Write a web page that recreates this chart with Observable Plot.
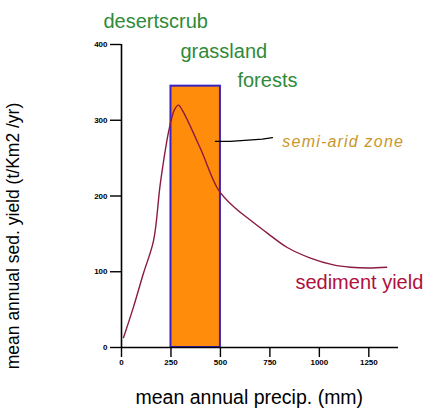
<!DOCTYPE html>
<html>
<head>
<meta charset="utf-8">
<script src="https://cdn.jsdelivr.net/npm/d3@7"></script>
<script src="https://cdn.jsdelivr.net/npm/@observablehq/plot@0.6"></script>
<style>
  html, body { margin: 0; padding: 0; background: #fff; }
</style>
</head>
<body>
<div id="chart"></div>
<script>
// Sediment yield curve (mean annual precip in mm, sed. yield in t/km2/yr)
const precip = [10, 60, 111, 162, 197, 242, 268, 288, 310, 400, 490, 570, 652, 737, 838, 955, 1071, 1157, 1250, 1340];
const sedYield = [13, 53, 98, 141, 218, 290, 314, 320, 312, 262, 208, 185, 168, 151, 132, 118, 109, 106, 105, 106];

// Semi-arid zone bar
const zoneStart = [250];
const zoneEnd = [500];
const zoneTop = [345];

// Leader line from bar to "semi-arid zone" label
const leaderX = [475, 550, 712, 763];
const leaderY = [272, 272, 275, 277];

// Tick labels
const xTicks = [0, 250, 500, 750, 1000, 1250];
const yTicks = [0, 100, 200, 300, 400];

// Annotations
const vegLabels = ["desertscrub", "grassland", "forests"];
const vegX = [-91, 298, 586];
const vegY = [430, 390, 352];

const zoneLabel = ["semi-arid zone"];
const zoneLabelX = [813];
const zoneLabelY = [271];

const seriesLabel = ["sediment yield"];
const seriesLabelX = [879];
const seriesLabelY = [86];

const xTitle = "mean annual precip. (mm)";
const yTitle = "mean annual sed. yield (t/Km2 /yr)";

const curveData = precip.map((p, i) => ({x: p, y: sedYield[i]}));
const barData = zoneStart.map((s, i) => ({x1: s, x2: zoneEnd[i], y: zoneTop[i]}));
const leaderData = leaderX.map((x, i) => ({x, y: leaderY[i]}));
const vegData = vegLabels.map((t, i) => ({t, x: vegX[i], y: vegY[i]}));

const font = "Liberation Sans, Arial, sans-serif";

const chart = Plot.plot({
  width: 433,
  height: 410,
  marginLeft: 121,
  marginRight: 35,
  marginTop: 44,
  marginBottom: 63,
  style: {fontFamily: font, background: "white", color: "black"},
  x: {domain: [0, 1400], ticks: xTicks, tickSize: 10, tickPadding: 2, label: null, tickFormat: d => String(d)},
  y: {domain: [0, 400], ticks: yTicks, tickSize: 11, tickPadding: 3, label: null, tickFormat: d => String(d)},
  marks: [
    Plot.rectY(barData, {x1: "x1", x2: "x2", y1: 0, y2: "y", fill: "#ff8c0a", stroke: "#3a22c0", strokeWidth: 2}),
    Plot.line(curveData, {x: "x", y: "y", stroke: "#8a1a40", strokeWidth: 1.4, curve: "catmull-rom"}),
    Plot.line(leaderData, {x: "x", y: "y", stroke: "black", strokeWidth: 1.3}),
    Plot.ruleX([0], {y1: 0, y2: 400, stroke: "black", strokeWidth: 1.6}),
    Plot.ruleY([0], {x1: 0, x2: 1400, stroke: "black", strokeWidth: 1.6}),
    Plot.axisX({ticks: xTicks, tickSize: 10, tickPadding: 2, fontSize: 8, fontWeight: "bold", strokeWidth: 1.4, label: null, tickFormat: d => String(d)}),
    Plot.axisY({ticks: yTicks, tickSize: 11, tickPadding: 3, fontSize: 8, fontWeight: "bold", strokeWidth: 1.4, label: null, tickFormat: d => String(d)}),
    Plot.text(vegData, {x: "x", y: "y", text: "t", textAnchor: "start", lineAnchor: "middle", fontSize: 20, fill: "#2f8a3a", fontFamily: font}),
    Plot.text(zoneLabel, {x: zoneLabelX, y: zoneLabelY, text: d => d, textAnchor: "start", lineAnchor: "middle", fontSize: 16, fontStyle: "italic", fill: "#c8962a", fontFamily: font}),
    Plot.text(seriesLabel, {x: seriesLabelX, y: seriesLabelY, text: d => d, textAnchor: "start", lineAnchor: "middle", fontSize: 20, fill: "#b0103e", fontFamily: font}),
    Plot.text([xTitle], {x: 646, frameAnchor: "bottom", dy: 50, text: d => d, textAnchor: "middle", lineAnchor: "middle", fontSize: 19.5, fill: "black", fontFamily: font}),
    Plot.text([yTitle], {frameAnchor: "left", dx: -108, dy: 40, rotate: -90, text: d => d, textAnchor: "middle", lineAnchor: "middle", fontSize: 17.5, fill: "black", fontFamily: font})
  ]
});

d3.select(chart).selectAll("text")
  .filter(function() { return this.textContent === "semi-arid zone"; })
  .attr("letter-spacing", "1.2");

document.getElementById("chart").appendChild(chart);
</script>
</body>
</html>
